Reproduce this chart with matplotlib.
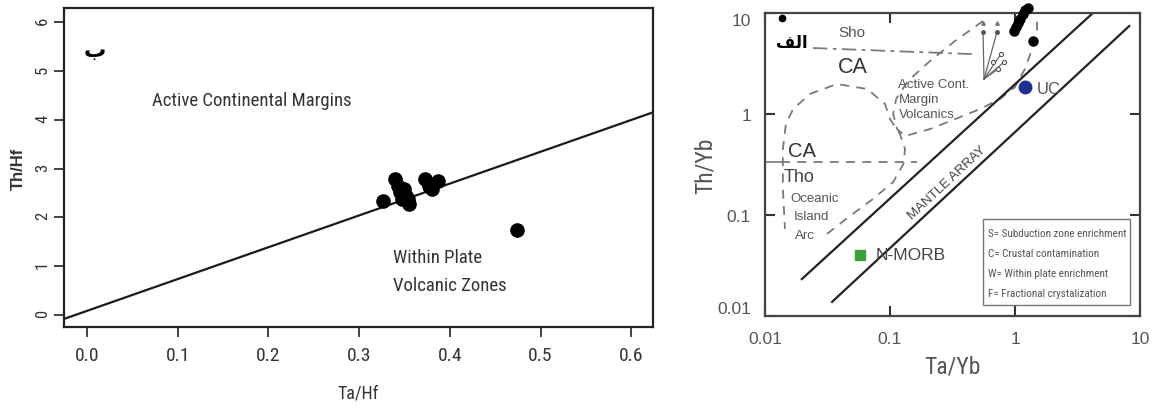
import matplotlib
matplotlib.use("Agg")
import matplotlib.pyplot as plt
from matplotlib import font_manager

_names = {f.name for f in font_manager.fontManager.ttflist}


def first_font(*cands):
    for c in cands:
        if c in _names:
            return c
    return "DejaVu Sans"


NARROW = first_font("Liberation Sans Narrow", "Roboto Condensed", "Liberation Sans")
SANS = first_font("Liberation Sans", "Arial", "DejaVu Sans")
ARABIC = "DejaVu Sans"

# ---------------- data: Th/Hf vs Ta/Hf ----------------
ta_hf = [0.326, 0.340, 0.343, 0.345, 0.347, 0.350, 0.352, 0.354, 0.355,
         0.373, 0.377, 0.380, 0.387, 0.474]
th_hf = [2.34, 2.78, 2.64, 2.51, 2.37, 2.58, 2.44, 2.37, 2.27,
         2.78, 2.64, 2.58, 2.75, 1.74]
hf_boundary_x = [-0.0254, 0.624]
hf_boundary_y = [-0.08, 4.15]
hf_xticks = [0.0, 0.1, 0.2, 0.3, 0.4, 0.5, 0.6]
hf_xticklabels = ["0.0", "0.1", "0.2", "0.3", "0.4", "0.5", "0.6"]
hf_yticks = [0, 1, 2, 3, 4, 5, 6]

# ---------------- data: Th/Yb vs Ta/Yb ----------------
ta_yb = [0.98, 1.02, 1.06, 1.10, 1.15, 1.21, 1.27, 1.39]
th_yb = [6.6, 7.3, 8.0, 8.8, 9.7, 10.6, 11.3, 5.3]
corner_point = (0.0137, 8.9)
uc_point = (1.2, 1.85)
nmorb_point = (0.0575, 0.040)
array_upper_x = [0.0197, 4.2]
array_upper_y = [0.0232, 10.0]
array_lower_x = [0.0344, 8.2]
array_lower_y = [0.0138, 7.43]
# field outlines
oia_x = [0.0313, 0.0479, 0.073, 0.106, 0.128, 0.132, 0.12, 0.1, 0.0912,
         0.0655, 0.0377, 0.0229, 0.0168, 0.0147, 0.0139, 0.0139, 0.01445]
oia_y = [0.0649, 0.098, 0.144, 0.212, 0.32, 0.45, 0.634, 0.89, 1.26,
         1.77, 1.98, 1.58, 1.12, 0.80, 0.45, 0.181, 0.0727]
acm_x = [0.555, 0.331, 0.209, 0.139, 0.112, 0.106, 0.114, 0.132, 0.209,
         0.331, 0.525, 0.759, 1.0, 1.2, 1.37, 1.5, 1.5]
acm_y = [8.33, 5.28, 3.35, 2.12, 1.41, 1.0, 0.71, 0.605, 0.71,
         0.89, 1.12, 1.41, 1.85, 2.79, 4.4, 6.95, 9.55]
sho_ca_x = [0.0242, 0.5]
sho_ca_y = [4.5, 3.9]
ca_tho_x = [0.0135, 0.164]
ca_tho_y = [0.335, 0.335]
vec_origin = (0.565, 2.22)
vec_ends_x = [0.555, 0.718, 0.773, 0.817, 0.731]
vec_ends_y = [6.49, 6.49, 3.93, 3.27, 2.79]
vec_open_x = [0.773, 0.667, 0.817, 0.731]
vec_open_y = [3.93, 3.27, 3.27, 2.79]
vec_tip_x = [0.555, 0.718]
vec_tip_y = [7.96, 7.96]
xy_ticks = [0.01, 0.1, 1, 10]
xy_ticklabels = ["0.01", "0.1", "1", "10"]
legend_lines = ["S= Subduction zone enrichment",
                "C= Crustal contamination",
                "W= Within plate enrichment",
                "F= Fractional crystalization"]

# joining forms for the few Arabic letters used in the panel tags
FORMS = {  # isolated, final, initial, medial
    "ا": ("\uFE8D", "\uFE8E", None, None),
    "ل": ("\uFEDD", "\uFEDE", "\uFEDF", "\uFEE0"),
    "ف": ("\uFED1", "\uFED2", "\uFED3", "\uFED4"),
    "ب": ("\uFE8F", "\uFE90", "\uFE91", "\uFE92"),
}


def shape_arabic(word):
    out = []
    n = len(word)
    for i, ch in enumerate(word):
        iso, fin, ini, med = FORMS[ch]
        prev_joins = i > 0 and FORMS[word[i - 1]][2] is not None
        next_joins = i < n - 1 and ini is not None
        if prev_joins and next_joins:
            form = med
        elif prev_joins:
            form = fin
        elif next_joins:
            form = ini
        else:
            form = iso
        out.append(form)
    return "".join(reversed(out))


W, H = 1152, 410
fig = plt.figure(figsize=(W / 100, H / 100), dpi=100)

# ================= left panel =================
axL = fig.add_axes([64 / W, 1 - 328 / H, 589 / W, 318.7 / H])
axL.plot(hf_boundary_x, hf_boundary_y, color="#1a1a1a", lw=1.6)
axL.plot(ta_hf, th_hf, "o", ms=9.5, color="black", mec="black")
axL.set_xlim(-0.0254, 0.624)
axL.set_ylim(-0.245, 6.28)
axL.set_xticks(hf_xticks)
axL.set_xticklabels(hf_xticklabels)
axL.set_yticks(hf_yticks)
for s in axL.spines.values():
    s.set_linewidth(1.6)
    s.set_color("#222")
axL.tick_params(axis="both", direction="out", length=7, width=1.3, color="#333",
                labelcolor="#333")
axL.tick_params(axis="x", pad=7, labelsize=14)
axL.tick_params(axis="y", pad=3, labelsize=12, labelrotation=90)
for lab in axL.get_xticklabels() + axL.get_yticklabels():
    lab.set_fontfamily(NARROW)
axL.set_xlabel("Ta/Hf", fontfamily=NARROW, fontsize=13, color="#333", labelpad=14)
axL.set_ylabel("Th/Hf", fontfamily=SANS, fontsize=12, color="#333",
               fontweight="bold")
axL.yaxis.set_label_coords(-0.064, 0.5)
axL.text(0.182, 4.4, "Active Continental Margins", fontfamily=NARROW,
         fontsize=13.5, color="#333", va="center", ha="center")
axL.text(0.337, 1.19, "Within Plate", fontfamily=NARROW, fontsize=13.5,
         color="#333", va="center", ha="left")
axL.text(0.337, 0.61, "Volcanic Zones", fontfamily=NARROW, fontsize=13.5,
         color="#333", va="center", ha="left")
axL.text(0.052, 0.87, shape_arabic("ب"), transform=axL.transAxes,
         fontfamily=ARABIC, fontsize=16, fontweight="bold", ha="center",
         va="center")

# ================= right panel =================
axR = fig.add_axes([765 / W, 1 - 317 / H, 375 / W, 303 / H])
axR.set_xscale("log")
axR.set_yscale("log")
axR.set_xlim(0.01, 10)
axR.set_ylim(0.01, 10)

dash_kw = dict(color="#7a7a7a", lw=1.3, ls=(0, (5, 4)))
axR.plot(oia_x, oia_y, **dash_kw)
axR.plot(acm_x, acm_y, **dash_kw)
axR.plot(sho_ca_x, sho_ca_y, color="#7a7a7a", lw=1.3, ls=(0, (8, 3, 2, 3)))
axR.plot(ca_tho_x, ca_tho_y, **dash_kw)
axR.plot([0.01, 0.0135], [0.335, 0.335], color="#7a7a7a", lw=1.2)

axR.plot(array_upper_x, array_upper_y, color="#222", lw=1.6)
axR.plot(array_lower_x, array_lower_y, color="#222", lw=1.6)

for ex, ey in zip(vec_ends_x, vec_ends_y):
    axR.plot([vec_origin[0], ex], [vec_origin[1], ey], color="#666", lw=0.9)
axR.plot(vec_ends_x[:2], vec_ends_y[:2], "o", ms=2.5, color="#555")
axR.plot(vec_tip_x, vec_tip_y, "^", ms=2.5, color="#777")
axR.plot(vec_open_x, vec_open_y, "o", ms=3, mfc="white", mec="#555", mew=0.8)

axR.plot(ta_yb, th_yb, "o", ms=6.5, color="black", clip_on=False, zorder=5)
axR.plot(*corner_point, "o", ms=4.5, color="black", zorder=5)
axR.plot(*uc_point, "o", ms=9, color="#1f2f95", zorder=5)
axR.plot(*nmorb_point, "s", ms=7.5, color="#3aa03a", zorder=5)

for s in axR.spines.values():
    s.set_linewidth(1.6)
    s.set_color("#444")
axR.set_xticks(xy_ticks)
axR.set_xticklabels(xy_ticklabels)
axR.set_yticks(xy_ticks)
axR.set_yticklabels(xy_ticklabels)
axR.minorticks_off()
axR.tick_params(axis="both", direction="in", length=7, width=1.5, color="#333",
                top=True, right=True, labelsize=12.5, labelcolor="#555")
axR.tick_params(axis="x", pad=11)
axR.tick_params(axis="y", pad=10)
for lab in axR.get_xticklabels() + axR.get_yticklabels():
    lab.set_fontfamily(SANS)
ylabs = axR.get_yticklabels()
ylabs[0].set_va("bottom")
ylabs[-1].set_va("top")
axR.set_xlabel("Ta/Yb", fontfamily=NARROW, fontsize=17, color="#555", labelpad=6)
axR.set_ylabel("Th/Yb", fontfamily=NARROW, fontsize=17, color="#555")
axR.yaxis.set_label_coords(-0.128, 0.5)

txt = dict(fontfamily=SANS, color="#555")
axR.text(0.0497, 6.49, "Sho", fontsize=11, ha="center", va="center", **txt)
axR.text(0.0506, 2.98, "CA", fontsize=15.5, ha="center", va="center",
         fontfamily=SANS, color="#333")
axR.text(0.0197, 0.433, "CA", fontsize=14.5, ha="center", va="center",
         fontfamily=SANS, color="#333")
axR.text(0.0187, 0.243, "Tho", fontsize=13, ha="center", va="center",
         fontfamily=SANS, color="#444")
axR.text(0.0251, 0.147, "Oceanic", fontsize=9.5, ha="center", va="center", **txt)
axR.text(0.0236, 0.097, "Island", fontsize=9.5, ha="center", va="center", **txt)
axR.text(0.0209, 0.0634, "Arc", fontsize=9.5, ha="center", va="center", **txt)
axR.text(0.116, 1.98, "Active Cont.", fontsize=9.5, ha="left", va="center", **txt)
axR.text(0.118, 1.41, "Margin", fontsize=9.5, ha="left", va="center", **txt)
axR.text(0.118, 1.0, "Volcanics", fontsize=9.5, ha="left", va="center", **txt)
axR.text(0.284, 0.211, "MANTLE ARRAY", fontsize=9.5, ha="center", va="center",
         rotation=43, fontfamily=SANS, color="#444")
axR.text(1.5, 1.77, "UC", fontsize=12, ha="left", va="center", **txt)
axR.text(0.0769, 0.0402, "N-MORB", fontsize=12.5, ha="left", va="center",
         fontfamily=SANS, color="#444")

# legend box for the process vectors
axR.add_patch(plt.Rectangle((0.581, 0.036), 0.392, 0.284, transform=axR.transAxes,
                            fill=False, ec="#777", lw=1.0))
for i, line in enumerate(legend_lines):
    axR.text(0.596, 0.275 - i * 0.066, line, transform=axR.transAxes,
             fontfamily=NARROW, fontsize=8, color="#555", va="center", ha="left")

axR.text(0.072, 0.904, shape_arabic("الف"), transform=axR.transAxes,
         fontfamily=ARABIC, fontsize=12, fontweight="bold", ha="center",
         va="center", zorder=6,
         bbox=dict(boxstyle="square,pad=0.15", fc="white", ec="none"))

fig.savefig("out.png", dpi=100)
